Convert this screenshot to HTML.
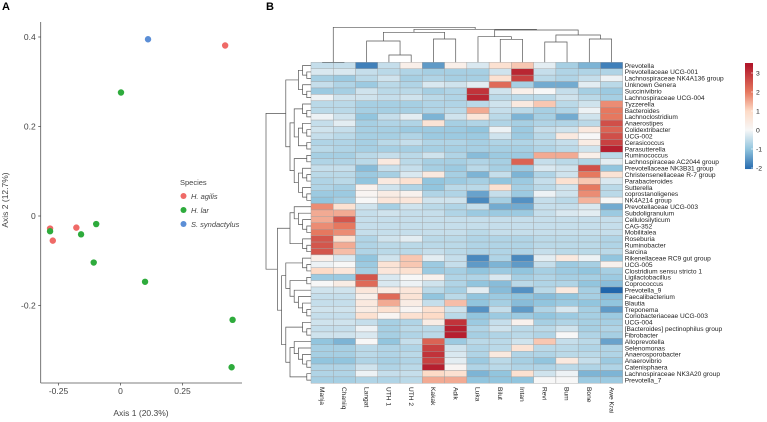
<!DOCTYPE html>
<html><head><meta charset="utf-8">
<style>
body{margin:0;background:#fff;}
svg{display:block;font-family:"Liberation Sans",sans-serif;}
</style></head>
<body>
<svg id="fig" width="767" height="422" viewBox="0 0 767 422" xmlns="http://www.w3.org/2000/svg">
<text x="2" y="10" font-size="11" font-weight="bold">A</text>
<text x="266" y="10" font-size="11" font-weight="bold">B</text>
<g id="pa"></g>
<g id="pb"></g>
</svg>
<script>
// ---------- Panel A data ----------
const species = ["H. agilis","H. lar","S. syndactylus"];
const speciesColors = ["#ef6a67","#2eab3c","#5b8ed6"];
const pointsX = [0.422,-0.284,-0.273,-0.178, 0.111, 0.002,-0.284,-0.159,-0.098,-0.108,0.099,0.452,0.448];
const pointsY = [0.381,-0.028,-0.055,-0.026, 0.395, 0.276,-0.034,-0.041,-0.018,-0.104,-0.147,-0.232,-0.338];
const pointsSp = [0,0,0,0,2,1,1,1,1,1,1,1,1];
const xTicks = [-0.25,0,0.25];
const xTickLabels = ["-0.25","0","0.25"];
const yTicks = [-0.2,0,0.2,0.4];
const yTickLabels = ["-0.2","0","0.2","0.4"];

// ---------- Panel B data ----------
const columns = ["Manja","Chaniiq","Langat","UTH 1","UTH 2","Kakak","Adik","Luka","Bilut","Intan","Revi","Bum","Bone","Awe Krai"];
const rows = ["Prevotella","Prevotellaceae UCG-001","Lachnospiraceae NK4A136 group","Unknown Genera","Succinivibrio","Lachnospiraceae UCG-004","Tyzzerella","Bacteroides","Lachnoclostridium","Anaerostipes","Colidextribacter","UCG-002","Cerasicoccus","Parasutterella","Ruminococcus","Lachnospiraceae AC2044 group","Prevotellaceae NK3B31 group","Christensenellaceae R-7 group","Parabacteroides","Sutterella","coprostanoligenes","NK4A214 group","Prevotellaceae UCG-003","Subdoligranulum","Cellulosilyticum","CAG-352","Mobilitalea","Roseburia","Ruminobacter","Sarcina","Rikenellaceae RC9 gut group","UCG-005","Clostridium sensu stricto 1","Ligilactobacillus","Coprococcus","Prevotella_9","Faecalibacterium","Blautia","Treponema","Coriobacteriaceae UCG-003","UCG-004","[Bacteroides] pectinophilus group","Fibrobacter","Alloprevotella","Selenomonas","Anaerosporobacter","Anaerovibrio","Catenisphaera","Lachnospiraceae NK3A20 group","Prevotella_7"];
const values = [
[-0.5,-0.5,-1.8,-0.5,0.3,-1.5,0.3,-0.3,0.8,1.2,-0.2,-0.8,-1.2,-1.8],
[-0.3,-0.3,-0.5,-0.6,-0.7,-0.8,-0.8,-0.8,-0.4,3.2,-0.5,-0.7,-0.7,-0.7],
[-0.8,-0.9,-0.6,-0.4,-0.8,-0.7,-0.8,-0.8,0.8,2.8,-0.6,-0.7,-0.5,-0.1],
[-0.5,-0.7,-0.9,-0.6,-0.7,-0.3,-0.4,-0.2,2.2,-0.8,-1.3,-1.3,-0.2,-0.6],
[-0.9,-0.8,-0.4,-0.6,-0.6,-0.8,-0.7,3.0,-0.4,0.3,0,-0.5,-0.8,-0.9],
[-0.1,-0.4,-0.4,-0.5,-0.4,-0.6,-0.7,3.2,-0.6,-0.6,-0.6,-0.4,-0.6,-0.8],
[-0.6,-0.6,-0.8,-0.8,-0.8,-0.7,-0.7,-0.6,-0.4,0.5,1.2,-0.6,-0.4,1.8],
[-0.6,-0.6,-0.8,-0.8,-0.8,-0.7,-0.6,1.5,-0.5,-0.6,-0.8,-0.7,-0.1,2.0],
[-0.1,-0.4,-1.0,-0.5,-0.2,-1.2,-0.4,0.6,-0.6,-1.2,-0.8,-1.3,-0.4,2.0],
[-0.5,-0.2,-0.8,-0.7,-0.7,0.7,-0.8,-0.7,-0.7,-0.8,-0.7,-0.7,-0.6,2.6],
[-0.4,-0.5,-0.8,-0.8,-0.9,-0.9,-0.9,-1.0,-0.1,-0.9,-0.5,-0.4,0.5,2.3],
[-0.5,-0.6,-0.8,-0.8,-0.7,-0.9,-0.9,-0.9,-0.4,-0.9,-0.6,0.5,0,2.6],
[-0.7,-0.7,-0.8,-0.6,-0.5,-0.7,-0.7,-0.8,-0.7,-0.7,-0.6,-0.5,0.4,2.8],
[-0.6,-0.7,-0.8,-0.8,-0.8,-0.8,-0.8,-0.8,-0.8,-0.8,-0.7,-0.6,-0.4,3.3],
[-0.8,-0.8,-0.6,-0.5,-0.6,-0.4,-0.7,-1.1,-0.9,-0.9,1.5,1.5,0.3,-0.6],
[-0.7,-0.7,-0.6,0.5,-0.6,-0.8,-0.8,-0.7,-0.8,2.3,-0.5,-0.6,-0.7,-0.2],
[-0.5,-0.5,-1.1,-0.5,-0.5,-0.8,-0.9,-0.6,-0.8,-0.9,-0.3,-0.4,2.6,-1.0],
[-0.6,-0.6,-0.9,-0.8,-0.3,0.5,-0.8,-1.2,-0.5,-1.2,-0.7,-0.4,2.0,0.7],
[-0.7,-0.6,-1.0,0.5,0.8,-1.0,-0.9,-0.8,-1.0,-0.9,-0.5,0.8,1.2,-0.3],
[-0.7,-0.8,0.2,-0.4,-0.7,-1.0,-0.6,-0.6,0.8,-0.8,-0.6,-0.4,2.0,-0.6],
[-0.9,-0.9,0.1,0.4,0.2,-0.7,-0.7,-1.4,-0.5,-0.9,-0.1,-0.4,1.8,-0.6],
[-1.0,-0.8,0,0.6,0.6,-0.4,-0.4,-1.7,-0.8,-1.6,-0.5,-0.6,1.4,0],
[1.8,0.8,-0.4,-0.8,-0.4,-0.6,-0.7,-0.5,-1.3,-1.3,-0.5,-0.5,-0.3,-1.3],
[1.5,1.5,-0.5,-0.4,-0.5,-0.5,-0.7,-0.9,-0.9,-0.9,-0.5,-0.3,-0.2,-0.9],
[1.5,2.5,-0.5,-0.5,-0.5,-0.5,-0.5,-0.5,-0.5,-0.5,-0.5,-0.5,-0.5,-0.5],
[1.8,2.0,-0.5,-0.5,-0.5,-0.5,-0.5,-0.5,-0.5,-0.5,-0.5,-0.5,-0.5,-0.5],
[2.0,1.8,-0.5,-0.5,-0.5,-0.5,-0.5,-0.6,-0.5,-0.5,-0.5,-0.5,-0.5,-0.5],
[2.5,0.8,-0.7,-0.4,-0.2,-0.6,-0.6,-0.7,-0.7,-0.7,-0.6,-0.6,-0.6,-0.7],
[2.5,1.5,-0.7,-0.6,-0.6,-0.6,-0.6,-0.7,-0.7,-0.7,-0.6,-0.6,-0.6,-0.7],
[2.5,1.3,-0.7,-0.6,-0.6,-0.5,-0.6,-0.7,-0.7,-0.7,-0.5,-0.6,-0.6,-0.6],
[0.3,-0.3,-1.0,-0.4,1.2,-0.2,-0.5,-1.7,-0.7,-1.7,-0.2,0.5,-0.1,-1.0],
[-0.1,0,-0.9,0.7,1.2,-0.9,-0.5,-1.5,-1.2,-1.5,-0.5,-0.9,-0.8,0.2],
[1.0,0.6,-0.8,0.6,0.8,-0.9,-0.8,-1.0,-0.9,-1.0,-0.8,-0.9,-1.0,-0.8],
[-0.9,-0.9,2.5,-0.3,0,0.2,-0.7,-0.7,-0.3,-0.8,-0.7,-0.8,-0.8,-0.9],
[0,0.4,2.2,-0.3,-0.1,-0.4,-0.7,-1.0,-1.1,-0.6,-0.7,-0.7,-1.0,-1.1],
[-0.4,-0.4,0.6,0.4,0.6,-0.6,-0.8,-0.2,-1.1,-1.6,-0.6,0.5,-0.8,-2.2],
[-0.5,-0.5,0.3,2.2,0.7,-1.0,-0.6,-1.0,-0.9,-1.0,-1.1,-1.0,-0.8,-1.1],
[-0.5,-0.5,0.5,1.5,0.4,-0.5,1.3,-1.0,-0.8,-1.1,-1.0,-0.9,-1.0,-1.0],
[-0.4,-0.4,0.4,0.8,0.1,0.8,-0.4,-1.6,-0.5,-1.5,-0.7,-0.3,-0.8,-1.5],
[-0.5,-0.5,0.8,0.1,0.8,1.0,-0.6,-1.0,-0.9,-0.9,-1.0,-0.9,-0.8,-0.9],
[-0.4,-0.4,-0.5,-0.8,-0.7,0.4,3.0,-0.9,-0.5,0.2,-0.8,-0.7,-0.8,-0.8],
[-0.5,-0.5,-0.1,-0.8,-0.6,-0.6,3.3,-0.7,-0.4,-0.6,-0.6,-0.4,-0.8,-0.7],
[-0.4,-0.4,-0.3,-0.8,-0.7,-0.6,3.3,-0.8,-0.7,-0.6,-0.7,0,-0.7,-0.8],
[-1.0,-1.2,0,-1.0,-0.5,2.3,-0.9,-0.6,-0.6,-0.4,1.2,-0.5,-0.6,-1.4],
[-0.8,-0.8,-0.6,-0.7,-0.7,2.8,-0.4,-0.7,-0.6,0.7,-0.6,-0.6,-0.7,-0.7],
[-0.8,-0.8,-0.6,-0.7,-0.6,3.0,-0.3,-0.7,0.5,-0.7,-0.7,-0.6,-0.6,-0.7],
[-1.0,-1.0,-0.7,-0.8,-0.7,2.8,-0.2,-0.9,-0.6,-0.8,-1.0,0.5,-0.5,-0.9],
[-0.7,-0.7,-0.4,-0.7,-0.6,3.3,0.1,-0.7,-0.6,-0.7,-0.7,-0.6,-0.7,-0.7],
[-0.7,-0.7,-0.1,-0.5,-0.5,1.0,0.8,-1.2,-1.0,0.8,-0.4,-0.1,-1.2,-1.2],
[-0.8,-0.8,-0.7,-0.7,-0.6,1.5,1.5,-1.0,-1.0,-1.0,0,0,-0.9,-0.9]
];
const legendTicks = [3,2,1,0,-1,-2];
const colTree = [[0,1],[[[2,[3,4]],[5,6]],[[7,[8,9]],[[10,11],[12,13]]]]];
const colTreeHeights = {root:27.3};
const rowTree = [[[[0,[1,2]],[3,[4,5]]],[[[6,[7,8]],[[9,[10,11]],[12,13]]],[[14,15],[[16,[17,18]],[19,[20,21]]]]]],[[[22,[23,[24,[25,26]]]],[27,[28,29]]],[[[30,[31,32]],[[33,34],[35,[36,[37,[38,39]]]]]],[[40,[41,42]],[[43,[44,[45,[46,47]]]],[48,49]]]]]];

const NS="http://www.w3.org/2000/svg";
function mk(tag,attrs,parent){const e=document.createElementNS(NS,tag);for(const k in attrs)e.setAttribute(k,attrs[k]);parent.appendChild(e);return e;}

// ---------- Panel A ----------
const pa=document.getElementById('pa');
const xS=v=>120.5+v*248, yS=v=>216-v*447.5;
const axL=40.7, axB=383, axR=242, axT=22;
let ln=mk('line',{x1:axL,y1:axT,x2:axL,y2:axB,stroke:'#555','stroke-width':0.8},pa);


ln=mk('line',{x1:axL,y1:axB,x2:axR,y2:axB,stroke:'#555','stroke-width':0.8},pa);


xTicks.forEach((v,i)=>{
  const t=mk('line',{x1:xS(v),y1:axB,x2:xS(v),y2:axB+2.5,stroke:'#555','stroke-width':0.8},pa);
  
  
  const tx=mk('text',{x:xS(v),y:axB+11,'font-size':8.5,fill:'#444','text-anchor':'middle'},pa);
  tx.textContent=xTickLabels[i];
  
  
});
yTicks.forEach((v,i)=>{
  const t=mk('line',{x1:axL-2.5,y1:yS(v),x2:axL,y2:yS(v),stroke:'#555','stroke-width':0.8},pa);
  
  
  const tx=mk('text',{x:axL-5,y:yS(v)+3,'font-size':8.5,fill:'#444','text-anchor':'end'},pa);
  tx.textContent=yTickLabels[i];
  
  
});
let at=mk('text',{x:141,y:416,'font-size':8.5,fill:'#444','text-anchor':'middle'},pa);
at.textContent='Axis 1 (20.3%)';


at=mk('text',{x:0,y:0,'font-size':8.5,fill:'#444','text-anchor':'middle',transform:'translate(8,200) rotate(-90)'},pa);
at.textContent='Axis 2 (12.7%)';


pointsX.forEach((v,i)=>{
  const c=mk('circle',{cx:xS(v),cy:yS(pointsY[i]),r:3.2,fill:speciesColors[pointsSp[i]]},pa);
  
  
});
let lt=mk('text',{x:180,y:185,'font-size':7.5,fill:'#444'},pa);
lt.textContent='Species';


species.forEach((s,i)=>{
  const y=196+i*14;
  const c=mk('circle',{cx:183.5,cy:y,r:3,fill:speciesColors[i]},pa);
  
  
  const t=mk('text',{x:191,y:y+3,'font-size':7.5,fill:'#444','font-style':'italic'},pa);
  t.textContent=s;
  
  
});

// ---------- Panel B ----------
const pb=document.getElementById('pb');
const gx0=311, gx1=622.7, gy0=62.3, gy1=383.3;
const cw=(gx1-gx0)/columns.length, rh=(gy1-gy0)/rows.length;
const stops=[[-2.1,[33,102,172]],[-1,[146,197,222]],[0,[247,247,247]],[1,[253,219,199]],[2,[230,120,95]],[3.4,[178,24,43]]];
function col(v){
  if(v<=stops[0][0])return 'rgb('+stops[0][1]+')';
  for(let i=1;i<stops.length;i++){if(v<=stops[i][0]){const a=stops[i-1],b=stops[i],t=(v-a[0])/(b[0]-a[0]);return 'rgb('+a[1].map((c,k)=>Math.round(c+(b[1][k]-c)*t)).join(',')+')';}}
  return 'rgb('+stops[stops.length-1][1]+')';
}
values.forEach((row,r)=>row.forEach((v,c)=>{
  const cell=mk('rect',{x:gx0+c*cw,y:gy0+r*rh,width:cw,height:rh,fill:col(v),stroke:'#a0a0a0','stroke-width':0.4},pb);
  
  
}));
rows.forEach((n,r)=>{
  const t=mk('text',{x:gx1+2,y:gy0+(r+0.5)*rh+2.3,'font-size':6.6,fill:'#222'},pb);
  t.textContent=n;
  
  
});
columns.forEach((n,c)=>{
  const cx=gx0+(c+0.5)*cw;
  const t=mk('text',{x:0,y:0,'font-size':6.6,fill:'#222',transform:`translate(${cx-2.3},387) rotate(90)`},pb);
  t.textContent=n;
  
  
});
// legend
const lgTop=63, lgBot=169, lv=v=>130-v*19;
for(let y=lgTop;y<lgBot;y+=1){
  const v=(130-y-0.5)/19;
  const s=mk('rect',{x:745,y:y,width:8,height:1.05,fill:col(v)},pb);
  
  
}
legendTicks.forEach(v=>{
  const tk=mk('line',{x1:751,y1:lv(v),x2:753,y2:lv(v),stroke:'#fff','stroke-width':0.6},pb);
  
  
  const t=mk('text',{x:756,y:lv(v)+2.5,'font-size':6.8,fill:'#222'},pb);
  t.textContent=v<0?'-'+Math.abs(v):String(v);
  
  
});
// column dendrogram
const colH={'0,1':62.3,'3,4':55,'2,3,4':41,'5,6':39,'2,3,4,5,6':32.3,'8,9':39.3,'7,8,9':36.7,'10,11':42,'12,13':39,'10,11,12,13':35,'7,8,9,10,11,12,13':30,'2,3,4,5,6,7,8,9,10,11,12,13':29.3};
function leaves(t){return Array.isArray(t)?leaves(t[0]).concat(leaves(t[1])):[t];}
function drawCol(t){
  if(!Array.isArray(t))return {x:gx0+(t+0.5)*cw,y:gy0};
  const a=drawCol(t[0]),b=drawCol(t[1]);
  const key=leaves(t).join(',');
  const y=colH[key]!==undefined?colH[key]:colTreeHeights.root;
  const p=mk('path',{d:`M${a.x},${a.y}V${y}H${b.x}V${b.y}`,fill:'none',stroke:'#555','stroke-width':0.7},pb);
  
  
  return {x:(a.x+b.x)/2,y:y};
}
drawCol(colTree);
// row dendrogram
function depth(t){return Array.isArray(t)?Math.max(depth(t[0]),depth(t[1]))+1:0;}
function drawRow(t,isRoot){
  if(!Array.isArray(t))return {x:gx0,y:gy0+(t+0.5)*rh};
  const a=drawRow(t[0]),b=drawRow(t[1]);
  const d=depth(t);
  let x=gx0-d*4.2;
  if(isRoot)x=266;
  x=Math.min(x,Math.min(a.x,b.x)-2);
  const p=mk('path',{d:`M${a.x},${a.y}H${x}V${b.y}H${b.x}`,fill:'none',stroke:'#555','stroke-width':0.7},pb);
  
  
  return {x:x,y:(a.y+b.y)/2};
}
drawRow(rowTree,true);
</script>
</body></html>
